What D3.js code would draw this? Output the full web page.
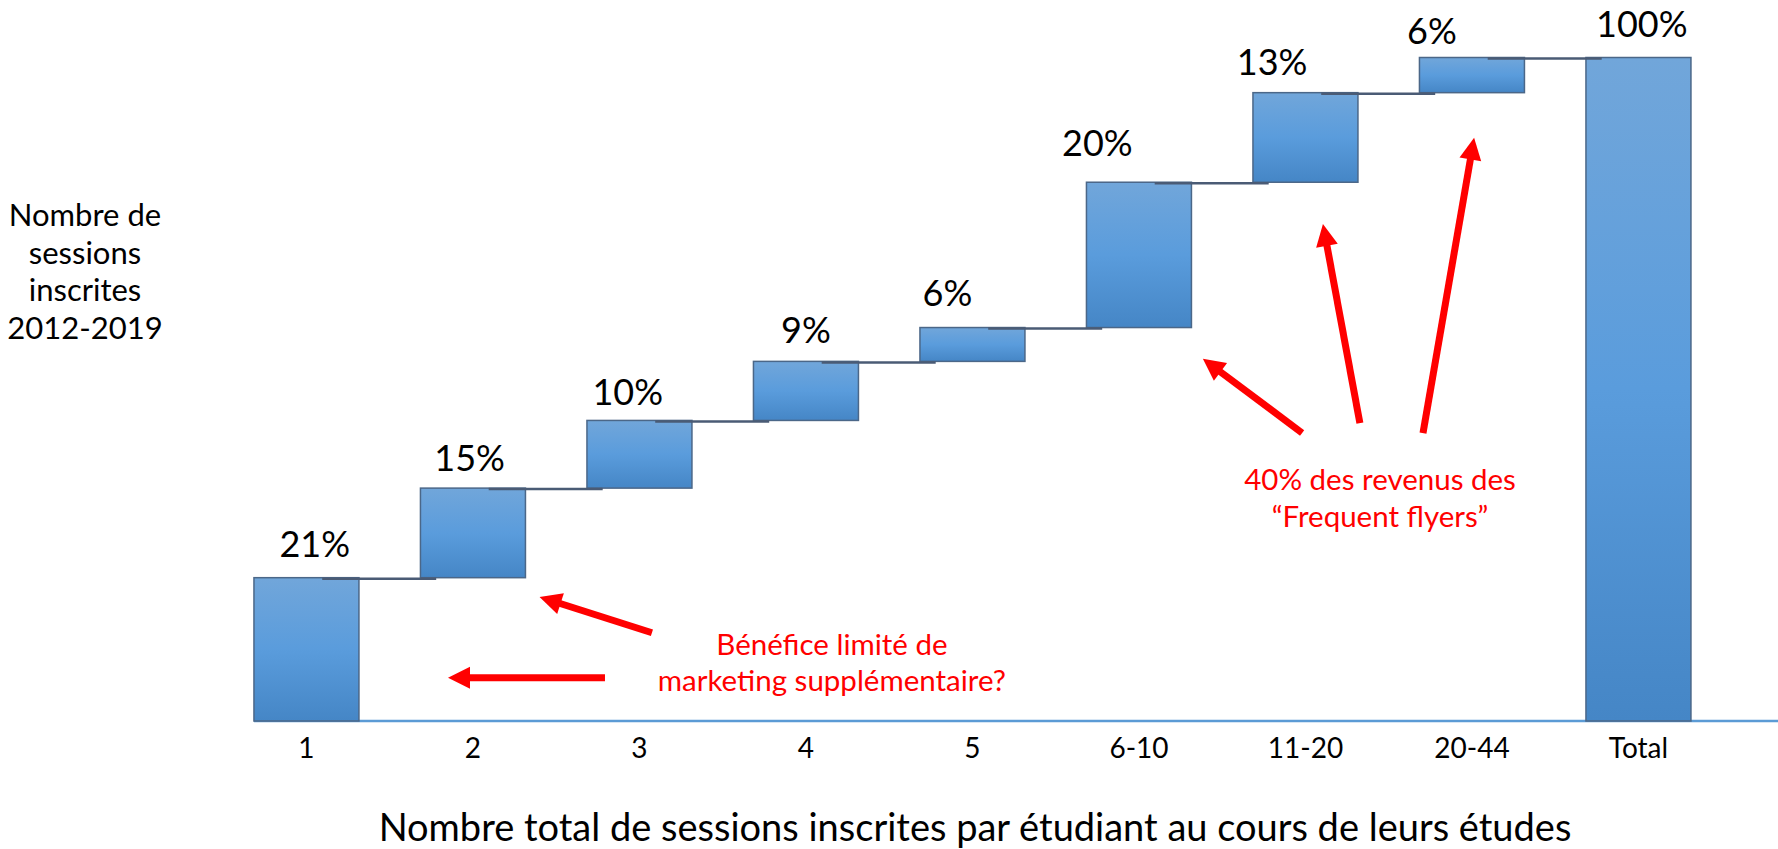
<!DOCTYPE html>
<html>
<head>
    <meta charset="utf-8">
    <title>Sessions inscrites - cascade</title>
    <script type="text/javascript" src="https://cdn.jsdelivr.net/npm/d3@7"></script>
    <style>
        body { margin: 0; background: #fff; }
        svg text { font-family: Lato, "Open Sans", sans-serif; }
    </style>
</head>
<body>
<script type="text/javascript">
    // data
    var categories = ['1', '2', '3', '4', '5', '6-10', '11-20', '20-44', 'Total'];
    // drawn step heights (% of sessions), the last one is the total
    var steps = [21.6, 13.5, 10.2, 8.9, 5.1, 21.9, 13.5, 5.3];
    var valueLabels = ['21%', '15%', '10%', '9%', '6%', '20%', '13%', '6%', '100%'];

    // hand placed label nudges in the original (fraction of a slot, px above bar)
    var labelDx = [0.05, -0.02, -0.07, 0, -0.15, -0.25, -0.2, -0.24, 0.02];
    var labelGap = [21, 17, 15, 18, 22, 26, 18, 14, 21];

    var yTitle = ['Nombre de', 'sessions', 'inscrites', '2012-2019'];
    var xTitle = 'Nombre total de sessions inscrites par étudiant au cours de leurs études';

    // annotations, in (slot, percent) units
    var noteLeft = ['Bénéfice limité de', 'marketing supplémentaire?'];
    var noteRight = ['40% des revenus des', '\u201CFrequent flyers\u201D'];
    var noteLeftAt = [3.156, 9.95];
    var noteRightAt = [6.448, 34.8];
    var arrows = [
        [[1.793, 6.5], [0.85, 6.5]],
        [[2.075, 13.3], [1.40, 18.7]],
        [[5.98, 43.4], [5.384, 54.6]],
        [[6.327, 44.9], [6.105, 74.9]],
        [[6.706, 43.4], [7.013, 87.9]]
    ];

    // build the waterfall rows
    var rows = [], run = 0;
    steps.forEach(function (v, i) {
        rows.push({ cat: categories[i], y0: run, y1: run + v });
        run += v;
    });
    rows.push({ cat: categories[categories.length - 1], y0: 0, y1: run });

    var width = 1778, height = 849;

    var x = d3.scaleBand()
        .domain(categories)
        .range([223.2, 1721.7])
        .paddingInner(0.3694)
        .paddingOuter(0.1847);

    var y = d3.scaleLinear().domain([0, 100]).range([721, 57.5]);

    var bw = x.bandwidth(), step = x.step();
    function slot(u) { return x(categories[0]) + bw / 2 + u * step; }

    var svg = d3.select('body').append('svg')
        .attr('width', width)
        .attr('height', height);

    var defs = svg.append('defs');
    var grad = defs.append('linearGradient')
        .attr('id', 'barFill')
        .attr('x1', 0).attr('y1', 0).attr('x2', 0).attr('y2', 1);
    grad.append('stop').attr('offset', '0%').attr('stop-color', '#71a6da');
    grad.append('stop').attr('offset', '50%').attr('stop-color', '#5a9cdc');
    grad.append('stop').attr('offset', '100%').attr('stop-color', '#4586c6');

    // baseline
    svg.append('line')
        .attr('x1', x(categories[0]))
        .attr('x2', width)
        .attr('y1', y(0))
        .attr('y2', y(0))
        .style('stroke', '#5b9bd5')
        .style('stroke-width', 2.5);

    // bars
    svg.selectAll('rect.bar')
        .data(rows)
        .enter()
        .append('rect')
        .attr('class', 'bar')
        .attr('x', function (d) { return x(d.cat); })
        .attr('y', function (d) { return y(d.y1); })
        .attr('width', bw)
        .attr('height', function (d) { return y(d.y0) - y(d.y1); })
        .style('fill', 'url(#barFill)')
        .style('stroke', '#4b6788')
        .style('stroke-width', 1.5);

    // connectors between bars
    svg.selectAll('line.link')
        .data(rows.slice(0, rows.length - 1))
        .enter()
        .append('line')
        .attr('class', 'link')
        .attr('x1', function (d) { return x(d.cat) + bw * 0.65; })
        .attr('x2', function (d, i) { return x(rows[i + 1].cat) + bw * 0.15; })
        .attr('y1', function (d) { return y(d.y1) + 1; })
        .attr('y2', function (d) { return y(d.y1) + 1; })
        .style('stroke', '#4a5b75')
        .style('stroke-width', 2.5);

    // value labels
    svg.selectAll('text.value')
        .data(rows)
        .enter()
        .append('text')
        .attr('class', 'value')
        .attr('x', function (d, i) { return x(d.cat) + bw / 2 + labelDx[i] * step; })
        .attr('y', function (d, i) { return y(d.y1) - labelGap[i]; })
        .attr('text-anchor', 'middle')
        .style('font-size', '36px')
        .style('fill', '#000')
        .text(function (d, i) { return valueLabels[i]; });

    // category labels
    var xAxis = d3.axisBottom(x).tickSize(0).tickPadding(0);
    var gx = svg.append('g')
        .attr('transform', 'translate(0,' + y(0) + ')')
        .call(xAxis);
    gx.select('.domain').remove();
    gx.selectAll('text')
        .attr('dy', null)
        .attr('y', 37)
        .style('font-family', 'Lato, sans-serif')
        .style('font-size', '28px')
        .style('fill', '#000');

    // axis titles
    svg.append('text')
        .attr('x', 975)
        .attr('y', 841)
        .attr('text-anchor', 'middle')
        .style('font-size', '38px')
        .text(xTitle);

    svg.append('text')
        .attr('text-anchor', 'middle')
        .style('font-size', '31px')
        .selectAll('tspan')
        .data(yTitle)
        .enter()
        .append('tspan')
        .attr('x', 85)
        .attr('y', function (d, i) { return 226 + i * 37.5; })
        .text(function (d) { return d; });

    // red notes
    function note(lines, at) {
        svg.append('text')
            .attr('text-anchor', 'middle')
            .style('font-size', '29.5px')
            .style('fill', '#ff0000')
            .selectAll('tspan')
            .data(lines)
            .enter()
            .append('tspan')
            .attr('x', slot(at[0]))
            .attr('y', function (d, i) { return y(at[1]) + i * 36.5; })
            .text(function (d) { return d; });
    }
    note(noteLeft, noteLeftAt);
    note(noteRight, noteRightAt);

    // red arrows: shaft + triangle head
    var headLen = 22, headHalf = 11;
    arrows.forEach(function (a) {
        var x0 = slot(a[0][0]), y0 = y(a[0][1]),
            x1 = slot(a[1][0]), y1 = y(a[1][1]);
        var dx = x1 - x0, dy = y1 - y0, len = Math.sqrt(dx * dx + dy * dy);
        var ux = dx / len, uy = dy / len;
        var bx = x1 - ux * headLen, by = y1 - uy * headLen;
        svg.append('line')
            .attr('x1', x0).attr('y1', y0)
            .attr('x2', bx + ux * 2).attr('y2', by + uy * 2)
            .style('stroke', '#ff0000')
            .style('stroke-width', 7);
        svg.append('path')
            .attr('d', 'M' + x1 + ',' + y1 +
                'L' + (bx - uy * headHalf) + ',' + (by + ux * headHalf) +
                'L' + (bx + uy * headHalf) + ',' + (by - ux * headHalf) + 'Z')
            .style('fill', '#ff0000');
    });
</script>
</body>
</html>
